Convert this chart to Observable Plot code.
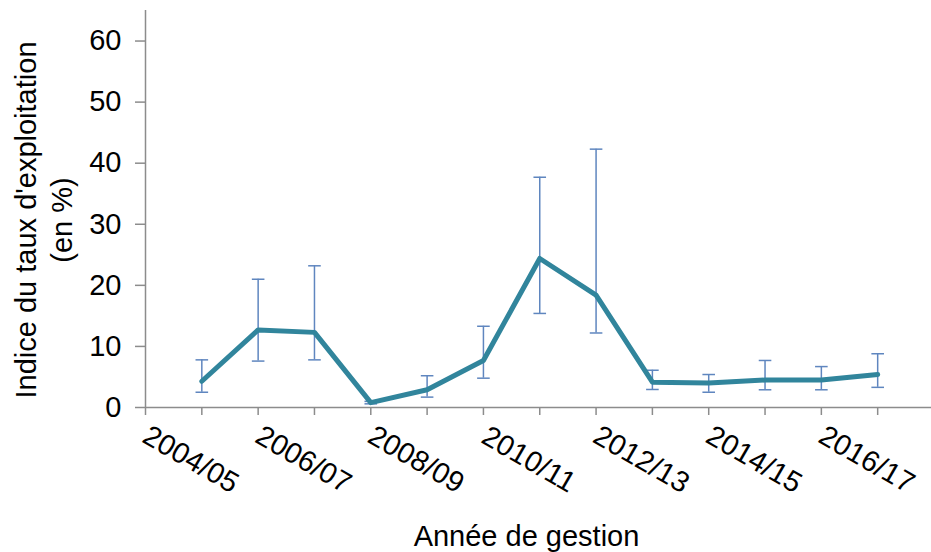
<!DOCTYPE html>
<html>
<head>
<meta charset="utf-8">
<script src="https://cdn.jsdelivr.net/npm/d3@7"></script>
<script src="https://cdn.jsdelivr.net/npm/@observablehq/plot@0.6"></script>
<style>
  html, body { margin: 0; padding: 0; background: #fff; }
  #chart svg { display: block; }
</style>
</head>
<body>
<div id="chart"></div>
<script>
const categories = ["2004/05","2005/06","2006/07","2007/08","2008/09","2009/10","2010/11","2011/12","2012/13","2013/14","2014/15","2015/16","2016/17"];
const values = [4.3, 12.7, 12.3, 0.8, 2.9, 7.7, 24.4, 18.4, 4.15, 4.0, 4.5, 4.5, 5.4];
const lows   = [2.5, 7.6, 7.8, 0.6, 1.7, 4.8, 15.4, 12.2, 2.95, 2.5, 2.9, 2.9, 3.3];
const highs  = [7.8, 21.0, 23.2, 1.0, 5.2, 13.3, 37.7, 42.3, 6.1, 5.4, 7.7, 6.7, 8.8];
const yTicks = [0, 10, 20, 30, 40, 50, 60];
const xTickSlots = d3.range(0, categories.length + 1);
const yLabel = "Indice du taux d'exploitation\n(en %)";
const xLabel = "Année de gestion";

const data = categories.map((c, i) => ({cat: c, pos: i + 1, value: values[i], low: lows[i], high: highs[i]}));
const labeled = data.filter((d, i) => i % 2 === 0);

const lineColor = "#31859c";
const errColor = "#5f86bf";
const axisColor = "#8c8c8c";
const font = "'Liberation Sans', Arial, sans-serif";
const fs = 29;

const capSymbol = {
  draw(context, size) {
    const w = Math.sqrt(size / Math.PI);
    context.moveTo(-w, 0);
    context.lineTo(w, 0);
  }
};

const chart = Plot.plot({
  width: 931,
  height: 552,
  marginLeft: 145,
  marginRight: 0,
  marginTop: 10,
  marginBottom: 145,
  style: {fontFamily: font, fontSize: fs + "px", color: "#000", background: "#fff"},
  x: {domain: [0, categories.length + 1], range: [145, 933.5]},
  y: {domain: [0, 65]},
  marks: [
    Plot.axisY({ticks: yTicks, tickSize: 10, tickPadding: 14, stroke: axisColor, fill: "#000", fontSize: fs, label: null, strokeWidth: 1.5}),
    Plot.axisX({ticks: xTickSlots, tickSize: 8, tickFormat: () => "", stroke: axisColor, label: null, strokeWidth: 1.5}),
    Plot.ruleX([0], {stroke: axisColor, strokeWidth: 1.5}),
    Plot.ruleY([0], {stroke: axisColor, strokeWidth: 1.5}),
    Plot.ruleX(data, {x: "pos", y1: "low", y2: "high", stroke: errColor, strokeWidth: 1.5}),
    Plot.dot(data, {x: "pos", y: "high", symbol: capSymbol, r: 6.3, stroke: errColor, strokeWidth: 1.5, fill: "none"}),
    Plot.dot(data, {x: "pos", y: "low", symbol: capSymbol, r: 6.3, stroke: errColor, strokeWidth: 1.5, fill: "none"}),
    Plot.line(data, {x: "pos", y: "value", stroke: lineColor, strokeWidth: 5, strokeLinejoin: "round", strokeLinecap: "round"}),
    Plot.text(labeled, {x: "pos", text: "cat", frameAnchor: "bottom", rotate: 30, dx: -11, dy: 52, textAnchor: "middle", lineAnchor: "middle", fontSize: fs, fill: "#000"}),
    Plot.text([yLabel], {text: d => d, frameAnchor: "left", rotate: -90, dx: -103, dy: 11, textAnchor: "middle", lineAnchor: "middle", lineHeight: 1.22, fontSize: fs, fill: "#000"}),
    Plot.text([xLabel], {text: d => d, frameAnchor: "bottom", dx: -12, dy: 138, textAnchor: "middle", lineAnchor: "bottom", fontSize: fs, fill: "#000"})
  ]
});
document.getElementById("chart").appendChild(chart);
</script>
</body>
</html>
